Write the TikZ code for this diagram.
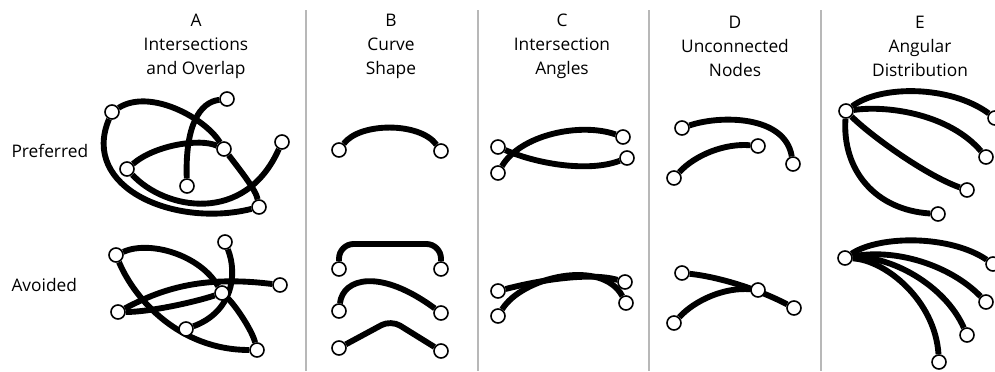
\documentclass[tikz,border=0pt]{standalone}
\usepackage{fontspec}
\setmainfont{Open Sans}
\usetikzlibrary{backgrounds}

\tikzset{every picture/.style={line width=0.75pt}}
\tikzset{
  vtx/.style={circle,draw=black,fill=white,line width=1.2pt,minimum size=10.5pt,inner sep=0pt},
  lnk/.style={line width=4.4pt,black},
  sep/.style={draw=black!28,line width=1.5pt}
}

\begin{document}
\begin{tikzpicture}[x=0.75pt,y=0.75pt,yscale=-1,xscale=1]
\useasboundingbox (0,0) rectangle (995,371); %set diagram to 995 x 371
\fontsize{13}{18}\selectfont

%Straight Lines (column separators)
\draw [sep] (306,10) -- (306,371) ;
\draw [sep] (478,10) -- (478,371) ;
\draw [sep] (649,10) -- (649,371) ;
\draw [sep] (821,10) -- (821,371) ;

% Text Node
\draw (196,46) node [anchor=center][inner sep=0.75pt][align=center] (hA) {A\\Intersections\\and Overlap};
% Text Node
\draw (391,46) node [anchor=center][inner sep=0.75pt][align=center] (hB) {B\\Curve\\Shape};
% Text Node
\draw (562,46) node [anchor=center][inner sep=0.75pt][align=center] (hC) {C\\Intersection\\Angles};
% Text Node
\draw (735,46) node [anchor=center][inner sep=0.75pt][align=center] (hD) {D\\Unconnected\\Nodes};
% Text Node
\draw (920,46) node [anchor=center][inner sep=0.75pt][align=center] (hE) {E\\Angular\\Distribution};
% Text Node
\draw (10,151) node [anchor=west][inner sep=0.75pt] (pref) {Preferred};
% Text Node
\draw (10,285) node [anchor=west][inner sep=0.75pt] (avoid) {Avoided};

%Shape: Circle (A, preferred)
\draw (112,112) node [vtx] (a1) {};
\draw (227,99) node [vtx] (a2) {};
\draw (282,142) node [vtx] (a3) {};
\draw (224,149) node [vtx] (a4) {};
\draw (127,169) node [vtx] (a5) {};
\draw (187,186) node [vtx] (a6) {};
\draw (259,207) node [vtx] (a7) {};
%Shape: Circle (A, avoided)
\draw (116,255) node [vtx] (m1) {};
\draw (225,242) node [vtx] (m2) {};
\draw (280,285) node [vtx] (m3) {};
\draw (222,293) node [vtx] (m4) {};
\draw (118,312) node [vtx] (m5) {};
\draw (186,329) node [vtx] (m6) {};
\draw (257,350) node [vtx] (m7) {};

%Shape: Circle (B)
\draw (339,150) node [vtx] (b1) {};
\draw (441,151) node [vtx] (b2) {};
\draw (339,269) node [vtx] (b3) {};
\draw (441,269) node [vtx] (b4) {};
\draw (339,311) node [vtx] (b5) {};
\draw (441,313) node [vtx] (b6) {};
\draw (339,348) node [vtx] (b7) {};
\draw (441,351) node [vtx] (b8) {};

%Shape: Circle (C)
\draw (498,147) node [vtx] (c1) {};
\draw (498,173) node [vtx] (c2) {};
\draw (623,137) node [vtx] (c3) {};
\draw (627,158) node [vtx] (c4) {};
\draw (498,291) node [vtx] (c5) {};
\draw (498,316) node [vtx] (c6) {};
\draw (625,282) node [vtx] (c7) {};
\draw (626,303) node [vtx] (c8) {};

%Shape: Circle (D)
\draw (682,128) node [vtx] (d1) {};
\draw (758,146) node [vtx] (d2) {};
\draw (793,164) node [vtx] (d3) {};
\draw (674,178) node [vtx] (d4) {};
\draw (682,273) node [vtx] (d5) {};
\draw (758,290) node [vtx] (d6) {};
\draw (794,308) node [vtx] (d7) {};
\draw (674,323) node [vtx] (d8) {};

%Shape: Circle (E)
\draw (846,111) node [vtx] (e0) {};
\draw (995,118) node [vtx] (e1) {};
\draw (986,157) node [vtx] (e2) {};
\draw (967,190) node [vtx] (e3) {};
\draw (938,214) node [vtx] (e4) {};
\draw (845,258) node [vtx] (f0) {};
\draw (993,264) node [vtx] (f1) {};
\draw (986,302) node [vtx] (f2) {};
\draw (967,335) node [vtx] (f3) {};
\draw (939,362) node [vtx] (f4) {};

\begin{scope}[on background layer]
%Curve Lines (A, preferred)
\draw [lnk] (a1) .. controls (150,88) and (205,118) .. (a4) ;
\draw [lnk] (a4) .. controls (240,170) and (256,190) .. (a7) ;
\draw [lnk] (a1) .. controls (80,188) and (175,228) .. (a7) ;
\draw [lnk] (a2) .. controls (200,102) and (185,125) .. (a6) ;
\draw [lnk] (a5) .. controls (155,145) and (200,138) .. (a4) ;
\draw [lnk] (a5) .. controls (165,210) and (245,225) .. (a3) ;
%Curve Lines (A, avoided)
\draw [lnk] (m1) .. controls (150,240) and (200,255) .. (m4) ;
\draw [lnk] (m4) .. controls (235,305) and (252,330) .. (m7) ;
\draw [lnk] (m1) .. controls (135,300) and (180,350) .. (m7) ;
\draw [lnk] (m2) .. controls (238,275) and (232,312) .. (m6) ;
\draw [lnk] (m5) .. controls (160,290) and (200,275) .. (m3) ;
\draw [lnk] (m5) .. controls (150,312) and (195,302) .. (m4) ;

%Curve Lines (B)
\draw [lnk] (b1) .. controls (360,122) and (420,122) .. (b2) ;
\draw [lnk,rounded corners=11pt] (b3) -- (339,244) -- (441,244) -- (b4) ;
\draw [lnk] (b5) .. controls (343,278) and (380,268) .. (b6) ;
\draw [lnk,rounded corners=8pt] (b7) -- (391,320) -- (b8) ;

%Curve Lines (C)
\draw [lnk] (c2) .. controls (520,135) and (580,122) .. (c3) ;
\draw [lnk] (c1) .. controls (540,165) and (590,172) .. (c4) ;
\draw [lnk] (c5) .. controls (540,280) and (590,272) .. (c7) ;
\draw [lnk] (c6) .. controls (522,277) and (602,258) .. (c8) ;

%Curve Lines (D)
\draw [lnk] (d1) .. controls (720,115) and (785,115) .. (d3) ;
\draw [lnk] (d4) .. controls (695,155) and (725,143) .. (d2) ;
\draw [lnk] (d5) .. controls (720,277) and (760,290) .. (d7) ;
\draw [lnk] (d8) .. controls (695,300) and (725,287) .. (d6) ;

%Curve Lines (E)
\draw [lnk] (e0) .. controls (880,85) and (950,85) .. (e1) ;
\draw [lnk] (e0) .. controls (890,105) and (950,115) .. (e2) ;
\draw [lnk] (e0) .. controls (870,135) and (925,175) .. (e3) ;
\draw [lnk] (e0) .. controls (842,170) and (875,210) .. (e4) ;
\draw [lnk] (f0) .. controls (880,235) and (950,235) .. (f1) ;
\draw [lnk] (f0) .. controls (895,248) and (950,265) .. (f2) ;
\draw [lnk] (f0) .. controls (890,255) and (945,285) .. (f3) ;
\draw [lnk] (f0) .. controls (885,260) and (935,300) .. (f4) ;
\end{scope}

\end{tikzpicture}
\end{document}
